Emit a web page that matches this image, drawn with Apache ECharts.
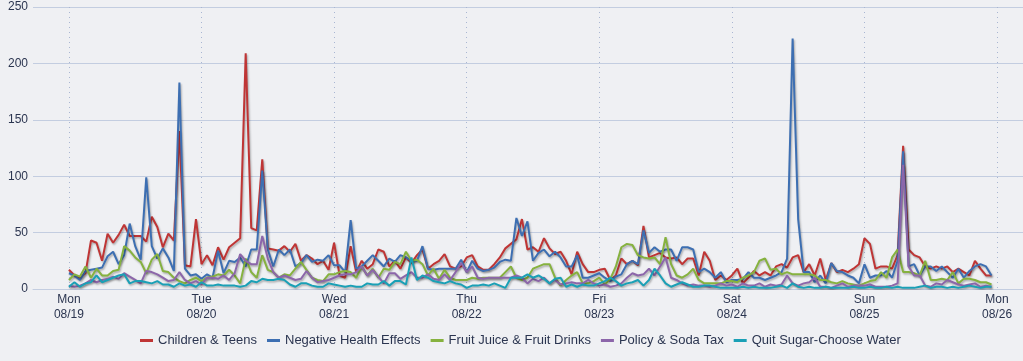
<!DOCTYPE html>
<html>
<head>
<meta charset="utf-8">
<script src="https://cdn.jsdelivr.net/npm/echarts@6/dist/echarts.min.js"></script>
<style>
html,body{margin:0;padding:0;background:#eff0f3;}
#chart{width:1023px;height:361px;}
</style>
</head>
<body>
<div id="chart"></div>
<script>
// Hourly data, Mon 08/19 00:00 through Sun 08/25 23:00 (168 points)
const seriesNames = ['Children & Teens','Negative Health Effects','Fruit Juice & Fruit Drinks','Policy & Soda Tax','Quit Sugar-Choose Water'];
const dayNames = ['Mon','Tue','Wed','Thu','Fri','Sat','Sun','Mon'];
const dayDates = ['08/19','08/20','08/21','08/22','08/23','08/24','08/25','08/26'];
const yTicks = [0,50,100,150,200,250];

const childrenTeens = [
17,12,10,14,43,41,25,49,41,48,57,47,47,47,42,64,55,37,49,43,140,21,20,62,
22,30,21,37,26,37,41,45,209,54,52,115,36,35,34,38,33,40,25,30,27,22,25,17,
41,12,10,38,15,25,18,22,35,33,20,25,18,28,23,30,35,18,22,25,31,20,18,20,
28,30,20,17,17,22,28,36,40,44,62,35,37,33,45,36,31,33,25,13,33,22,15,15,
17,18,8,12,27,22,25,21,56,28,30,32,28,27,28,22,27,27,12,33,25,8,12,8,
12,18,5,10,16,12,15,12,20,22,19,28,30,15,22,12,27,8,23,15,17,15,18,22,
45,40,18,20,20,18,30,127,35,30,28,20,18,20,18,20,15,18,15,12,25,18,12,12];

const negativeHealth = [
14,12,8,16,17,18,19,29,33,22,30,58,38,26,99,38,27,36,28,16,183,18,12,13,
9,13,10,34,14,25,24,28,20,35,35,105,35,20,35,30,35,20,23,30,24,26,25,30,
21,21,15,61,18,20,25,30,25,20,27,24,30,28,25,25,38,18,17,18,18,18,18,26,
15,25,18,16,17,19,24,26,25,63,47,60,25,32,35,29,33,28,20,20,30,10,10,12,
14,10,7,11,13,22,25,22,52,32,37,33,35,35,25,37,37,35,15,18,15,10,15,6,
8,8,9,15,10,10,8,10,12,15,27,222,62,15,15,6,12,5,23,16,15,12,10,5,
22,10,12,12,16,10,25,122,20,22,12,20,20,16,20,15,10,18,10,16,20,22,20,12];

const fruitJuice = [
8,13,11,20,10,18,12,12,16,17,38,34,28,24,14,26,31,16,15,10,7,5,8,10,
7,10,11,13,12,17,12,5,27,15,10,30,17,15,10,13,12,18,24,17,10,8,7,13,
13,15,16,15,10,20,12,18,10,18,17,24,22,33,25,26,22,12,18,9,17,10,8,8,
8,10,9,10,10,10,10,15,20,10,8,10,18,20,22,22,10,3,8,12,15,5,5,7,
10,4,9,20,37,40,39,30,28,27,28,22,46,22,12,10,13,18,8,5,5,5,5,7,
7,6,10,12,15,25,27,17,18,13,15,13,13,13,13,12,8,8,6,5,7,5,4,3,
5,7,8,15,10,28,35,15,15,14,12,25,8,8,9,8,15,5,9,9,8,6,6,4];

const policySoda = [
3,2,3,5,8,6,8,9,11,9,14,11,8,5,16,15,13,10,7,8,15,8,5,7,
4,10,10,9,12,8,14,31,25,22,22,47,27,15,10,12,10,8,9,16,10,6,7,8,
10,12,13,13,15,20,12,17,11,5,14,14,9,12,15,10,10,13,9,8,13,8,15,23,
15,20,10,9,10,10,10,10,10,12,10,5,9,7,10,5,8,4,5,6,5,5,8,5,
3,4,2,3,5,10,14,12,13,18,12,20,28,10,8,5,3,4,3,3,2,3,5,3,
4,2,5,3,3,5,2,4,3,4,12,5,3,5,6,10,2,2,1,3,5,2,3,3,
3,4,2,2,2,3,5,110,20,12,12,3,2,5,4,8,6,4,3,4,5,2,3,2];

const quitSugar = [
2,6,2,5,6,12,6,8,10,12,13,5,7,7,6,5,7,4,4,2,5,3,4,2,
6,3,3,4,3,3,3,2,3,7,6,9,8,8,9,8,4,2,5,5,3,2,2,5,
4,3,2,3,2,2,5,4,4,7,3,7,7,4,28,8,12,10,7,6,5,7,5,4,
1,3,3,4,3,5,3,1,10,10,10,13,10,12,9,5,9,10,2,4,2,4,3,3,
5,7,10,7,3,5,6,8,3,8,18,12,5,2,4,6,4,2,2,3,3,2,1,1,
1,1,2,1,2,1,1,1,2,3,1,5,2,1,2,1,1,2,1,1,1,1,2,1,
1,2,1,1,2,1,2,1,1,1,2,3,1,2,2,1,2,1,2,3,2,1,2,2];

const allData = [childrenTeens, negativeHealth, fruitJuice, policySoda, quitSugar];
const colors = ['#bf3535','#3d6fb2','#86b23f','#8c66aa','#1aa0b6'];
const dayHours = dayNames.map((d,i)=>i*24);

const chart = echarts.init(document.getElementById('chart'));
const font = "'Liberation Sans', Arial, sans-serif";
chart.setOption({
  backgroundColor:'#eff0f3',
  animation:false,
  textStyle:{fontFamily:font},
  grid:{left:33,right:0,top:7,bottom:72,containLabel:false},
  legend:{
    data:seriesNames, top:329, left:135,
    icon:'rect', itemWidth:13, itemHeight:3, itemGap:10,
    textStyle:{color:'#2b3550',fontSize:13,fontFamily:font}
  },
  xAxis:{
    type:'value', min:-6.5, max:172.7,
    axisLine:{show:true,lineStyle:{color:'#c3cde0'}},
    axisTick:{show:false,customValues:dayHours},
    splitLine:{show:true,lineStyle:{type:[1,4],color:'#a9b6d2'}},
    axisLabel:{customValues:dayHours,color:'#2b3550',fontSize:12,lineHeight:15,margin:3,
      formatter:function(v){const i=Math.round(v/24);return dayNames[i]+'\n'+dayDates[i];}}
  },
  yAxis:{
    type:'value', min:0, max:250, interval:50,
    axisLine:{show:false}, axisTick:{show:false},
    splitLine:{lineStyle:{color:'#c3cde0',width:1}},
    axisLabel:{color:'#2b3550',fontSize:12,margin:5}
  },
  series: seriesNames.map((n,k)=>({
    name:n, type:'line', showSymbol:false, color:colors[k],
    data: allData[k].map((v,i)=>[i,v]),
    lineStyle:{width:2,color:colors[k],shadowColor:'rgba(0,0,0,0.3)',shadowBlur:2,shadowOffsetX:1,shadowOffsetY:1.5},
    emphasis:{disabled:true}
  }))
});
</script>
</body>
</html>
